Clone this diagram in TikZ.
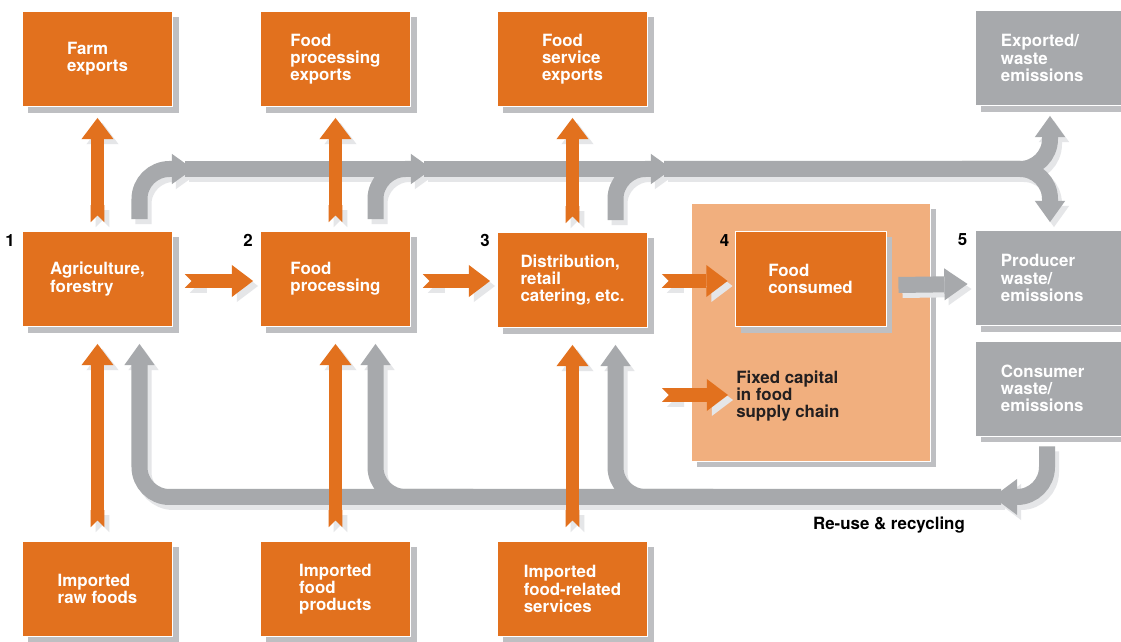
\documentclass[tikz,border=0pt]{standalone}
\usepackage{fontspec}
\setmainfont{TeX Gyre Heros}
\usetikzlibrary{arrows.meta,calc}

\definecolor{foodorange}{RGB}{226,113,30}
\definecolor{capitalorange}{RGB}{241,175,126}
\definecolor{wastegrey}{RGB}{167,169,172}
\definecolor{shadowgrey}{RGB}{190,191,194}
\definecolor{paleshadow}{RGB}{229,230,232}
\definecolor{darktext}{RGB}{35,31,32}

\newcommand{\boxfont}{\bfseries\fontsize{12}{12.2}\selectfont}

\tikzset{
  boxshadow/.style={preaction={fill=shadowgrey, draw=none, transform canvas={shift={(6,6)}}}},
  foodbox/.style={fill=foodorange, draw=white, line width=0.6pt, minimum width=3.75cm,
    minimum height=2.375cm, inner sep=0pt, align=left, text=white, font=\boxfont, boxshadow},
  wastebox/.style={foodbox, fill=wastegrey, text width=2.45cm, inner xsep=0.65cm},
  capbox/.style={fill=capitalorange, draw=white, line width=0.6pt, minimum width=5.975cm,
    minimum height=6.45cm, boxshadow},
  num/.style={font=\bfseries\fontsize{12}{14}\selectfont, inner sep=0pt},
  flow/.style={draw=foodorange, line width=0.34cm,
    {Triangle Cap[reversed]}-{Triangle[width=0.8cm, length=0.53cm, line width=0pt]},
    preaction={draw=paleshadow, transform canvas={shift={(5,5)}}}},
  waste/.style={draw=wastegrey, line width=0.4cm, rounded corners=0.75cm},
  wastehead/.style={waste, -{Triangle[width=0.76cm, length=0.53cm, line width=0pt]}}
}

% grey flows, drawn twice (shadow, then band)
\newcommand{\wasteflows}{%
  % outward, along the top
  \draw[waste] ($(j1)+(-8,0)$) -- ($(j2)+(-20,0)$);
  \draw[waste] ($(j2)+(-8,0)$) -- ($(j3)+(-20,0)$);
  \draw[wastehead] ($(j3)+(-8,0)$) -| ($(exported.south)+(0,10)$);
  \draw[wastehead] ($(j3)+(290,0)$) -| ($(producer.north)+(0,-8)$);
  \draw[wastehead] ($(agri.north)+(42,-12)$) |- (j1);
  \draw[wastehead] ($(fproc.north)+(40,-12)$) |- (j2);
  \draw[wastehead] ($(distr.north)+(43,-12)$) |- (j3);
  % back, along the bottom
  \draw[wastehead] ($(j4)+(8,0)$) -| ($(agri.south)+(42,17)$);
  \draw[wastehead] ($(j4)+(-520,0)$) -| ($(fproc.south)+(40,17)$);
  \draw[wastehead] ($(j4)+(-280,0)$) -| ($(distr.south)+(43,17)$);
  \draw[wastehead, -{Triangle[width=0.9cm, length=0.6cm, line width=0pt]}]
    ($(consumer.south)+(-3,10)$) |- (j4);
  \draw[wastehead, -{Triangle[width=0.8cm, length=0.58cm, line width=0pt]}]
    ($(consumed.east)+(12,6)$) -- ($(producer.west)+(-7,6)$);
}

\begin{document}
\begin{tikzpicture}[x=0.025cm, y=-0.025cm]
  \clip (0,0) rectangle (1121,642);
  \fill[white] (0,0) rectangle (1121,642);

  % boxes
  \node[capbox] (capital) at (810.5,332) {};
  \node[foodbox] (farm) at (97.5,59) {Farm\\exports};
  \node[foodbox] (fpexp) at (335.5,59) {Food\\processing\\exports};
  \node[foodbox] (fsexp) at (572.5,59) {Food\\service\\exports};
  \node[wastebox] (exported) at (1050,58) {Exported/\\waste\\emissions};
  \node[foodbox] (agri) at (97.5,279) {Agriculture,\\forestry};
  \node[foodbox] (fproc) at (335.5,279) {Food\\processing};
  \node[foodbox] (distr) at (572.5,280) {Distribution,\\retail\\catering, etc.};
  \node[foodbox, minimum width=3.775cm] (consumed) at (810.5,279) {Food\\consumed};
  \node[wastebox] (producer) at (1050,278) {Producer\\waste/\\emissions};
  \node[wastebox] (consumer) at (1050,388.5) {Consumer\\waste/\\emissions};
  \node[foodbox] (impraw) at (97.5,589) {Imported\\raw foods};
  \node[foodbox] (impfood) at (335.5,589) {Imported\\food\\products};
  \node[foodbox] (impserv) at (572.5,589) {Imported\\food-related\\services};

  \node[anchor=west, inner sep=0pt, align=left, text=darktext, font=\boxfont]
    (captext) at (736,396) {Fixed capital\\in food\\supply chain};

  % stage numbers
  \node[num] (n1) at ($(agri.north west)+(-12,9)$) {1};
  \node[num] (n2) at ($(fproc.north west)+(-12,9)$) {2};
  \node[num] (n3) at ($(distr.north west)+(-12,8)$) {3};
  \node[num] (n4) at ($(consumed.north west)+(-10,9)$) {4};
  \node[num] (n5) at ($(producer.north west)+(-12,10)$) {5};

  % junctions of the grey bands
  \coordinate (j1) at (193,169);
  \coordinate (j2) at (432,169);
  \coordinate (j3) at (672,169);
  \coordinate (j4) at (993,497);
  \coordinate (capsrc) at (662,395);

  \begin{scope}[transform canvas={shift={(4,5)}}, waste/.append style={draw=paleshadow}]
    \wasteflows
  \end{scope}
  \wasteflows

  % food flows
  \draw[flow] ($(agri.north)+(0,-9)$) -- ($(farm.south)+(0,11)$);
  \draw[flow] ($(fproc.north)+(0,-9)$) -- ($(fpexp.south)+(0,11)$);
  \draw[flow] ($(distr.north)+(0,-9)$) -- ($(fsexp.south)+(0,11)$);
  \draw[flow] ($(impraw.north)+(0,-14)$) -- ($(agri.south)+(0,17)$);
  \draw[flow] ($(impfood.north)+(0,-14)$) -- ($(fproc.south)+(0,17)$);
  \draw[flow] ($(impserv.north)+(0,-14)$) -- ($(distr.south)+(0,17)$);
  \draw[flow] ($(agri.east)+(12,2)$) -- ($(fproc.west)+(-7,2)$);
  \draw[flow] ($(fproc.east)+(12,2)$) -- ($(distr.west)+(-7,1)$);
  \draw[flow] ($(distr.east)+(14,1)$) -- ($(consumed.west)+(-7,2)$);
  \draw[flow] (capsrc) -- ($(captext.west)+(-8,-1)$);

  \node[num] (reuse) at (889,525) {Re-use \& recycling};
\end{tikzpicture}
\end{document}
